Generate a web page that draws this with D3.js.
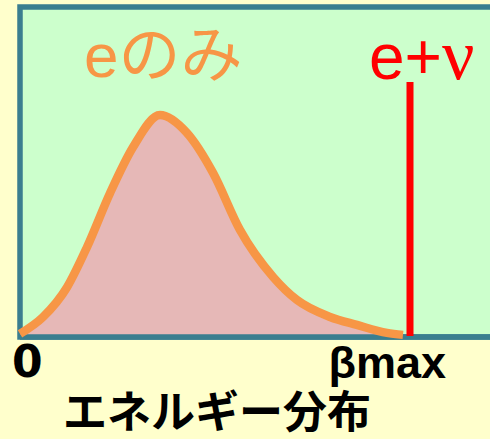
<!DOCTYPE html>
<html>
<head>
<meta charset="utf-8">
<script src="https://cdn.jsdelivr.net/npm/d3@7"></script>
<style>
  html, body { margin: 0; padding: 0; background: #FFFFCC; overflow: hidden; }
  svg { display: block; }
</style>
</head>
<body>
<div id="chart"></div>
<script>
// energy as fraction of beta max, intensity relative to the peak
var energy    = [0, 0.059, 0.121, 0.172, 0.231, 0.290, 0.359, 0.428, 0.495, 0.564, 0.649, 0.710, 0.795, 0.864, 0.941, 0.982];
var intensity = [0.01, 0.086, 0.222, 0.403, 0.647, 0.855, 1.0, 0.919, 0.738, 0.480, 0.267, 0.163, 0.086, 0.050, 0.014, 0.005];
var x_ticks = ['0', 'βmax'];
var neutrino_top = 1.149;

var width = 490, height = 439;
var svg = d3.select('#chart').append('svg').attr('width', width).attr('height', height);

var x_scale = d3.scaleLinear().domain([0, 1]).range([20, 410]);
var y_scale = d3.scaleLinear().domain([0, 1]).range([336, 115]);

// plot frame, runs off the right edge like the original slide
svg.append('rect')
    .attr('x', 20).attr('y', 7)
    .attr('width', 520).attr('height', 330)
    .attr('fill', '#CCFFCC')
    .attr('stroke', '#3A7E8F').attr('stroke-width', 5.5);

var pts = energy.map((e, i) => [e, intensity[i]]);

var area = d3.area()
    .x(d => x_scale(d[0]))
    .y0(y_scale(0))
    .y1(d => y_scale(d[1]))
    .curve(d3.curveMonotoneX);
var line = d3.line()
    .x(d => x_scale(d[0]))
    .y(d => y_scale(d[1]))
    .curve(d3.curveMonotoneX);

svg.append('path').datum(pts).attr('d', area).attr('fill', '#E6B8B7');

// redraw bottom border over the fill
svg.append('line')
    .attr('x1', 20).attr('x2', 540)
    .attr('y1', 337).attr('y2', 337)
    .attr('stroke', '#3A7E8F').attr('stroke-width', 5.5);

svg.append('path').datum(pts).attr('d', line)
    .attr('fill', 'none')
    .attr('stroke', '#F79646').attr('stroke-width', 8.5);

svg.append('line')
    .attr('x1', x_scale(1)).attr('x2', x_scale(1))
    .attr('y1', y_scale(0)).attr('y2', y_scale(neutrino_top))
    .attr('stroke', '#FF0000').attr('stroke-width', 7);

svg.append('text').text('eのみ')
    .attr('x', 84).attr('y', 77)
    .attr('fill', '#F79646')
    .attr('font-family', 'Liberation Sans, "Noto Sans CJK JP", sans-serif')
    .attr('font-size', 62);

var nu = svg.append('text')
    .attr('x', 369).attr('y', 79)
    .attr('fill', '#FF0000')
    .attr('font-family', 'Liberation Sans, sans-serif')
    .attr('font-size', 64);
nu.append('tspan').text('e+');
nu.append('tspan').text('ν').attr('font-family', 'Liberation Serif, serif').attr('font-size', 72);

svg.append('text').text(x_ticks[0])
    .attr('x', x_scale(0) - 8).attr('y', 377)
    .attr('fill', '#000')
    .attr('font-family', 'DejaVu Sans, sans-serif')
    .attr('font-weight', 'bold')
    .attr('font-size', 44)
    .attr('textLength', 28);

svg.append('text').text(x_ticks[1])
    .attr('x', x_scale(1) + 36).attr('y', 378)
    .attr('text-anchor', 'end')
    .attr('fill', '#000')
    .attr('font-family', 'Liberation Sans, sans-serif')
    .attr('font-weight', 'bold')
    .attr('font-size', 45);

svg.append('text').text('エネルギー分布')
    .attr('x', 217).attr('y', 428)
    .attr('text-anchor', 'middle')
    .attr('fill', '#000')
    .attr('font-family', '"Noto Sans CJK JP", sans-serif')
    .attr('font-weight', 'bold')
    .attr('font-size', 44);
</script>
</body>
</html>
